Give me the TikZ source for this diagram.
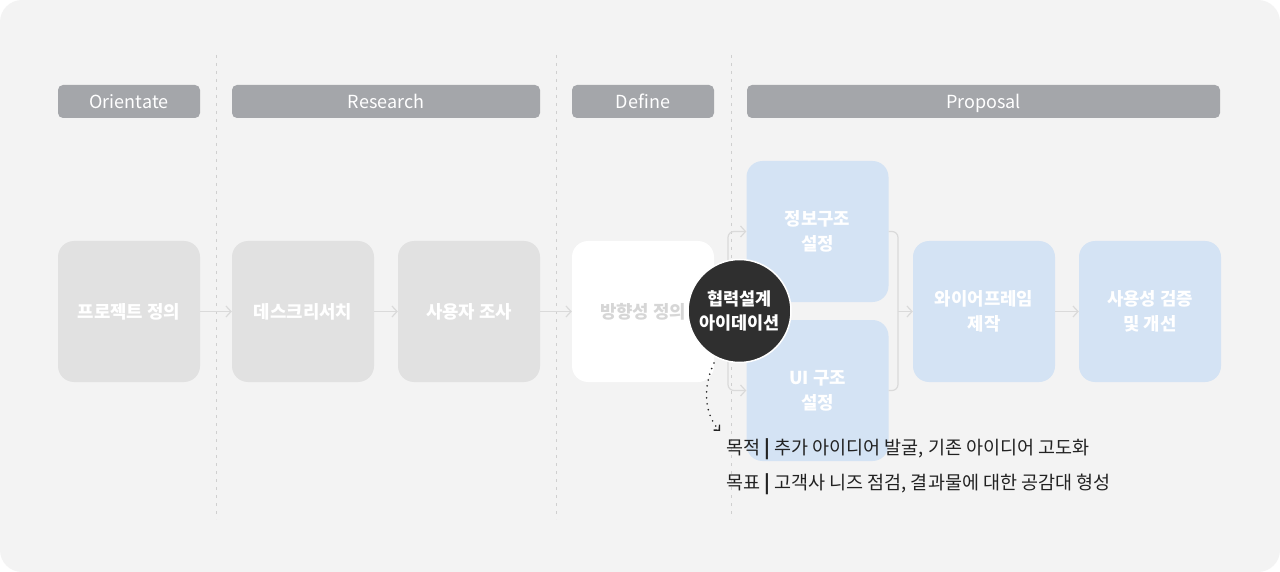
\documentclass[tikz,border=0pt]{standalone}
\usepackage{fontspec}
\setmainfont{Noto Sans CJK KR}
\usetikzlibrary{arrows.meta}
\definecolor{bgc}{HTML}{F3F3F3}
\definecolor{hdrc}{HTML}{A4A6AA}
\definecolor{grayb}{HTML}{E1E1E1}
\definecolor{blueb}{HTML}{D4E3F4}
\definecolor{arrc}{HTML}{DADADA}
\definecolor{sepc}{HTML}{CFCFCF}
\definecolor{circc}{HTML}{2F2F2F}
\definecolor{txtc}{HTML}{222222}
\definecolor{dimtxt}{HTML}{D6D6D6}
\begin{document}
\begin{tikzpicture}[x=1pt,y=-1pt,
  hdr/.style={fill=hdrc, rounded corners=5pt, text=white, minimum height=33pt, inner sep=0pt, text height=14pt, text depth=0pt, font=\fontsize{18}{20}\selectfont},
  box/.style={rounded corners=16pt, minimum width=142pt, minimum height=141pt, inner sep=0pt, align=center, text=white, font=\fontsize{17.8}{25}\selectfont\bfseries},
  graybox/.style={box, fill=grayb},
  whitebox/.style={box, fill=white, text=dimtxt},
  bluebox/.style={box, fill=blueb},
  wire/.style={draw=arrc, line width=1.2pt},
  conn/.style={wire, -{Straight Barb[length=5pt,width=11pt,line width=1.2pt]}},
  sep/.style={draw=sepc, line width=1pt, dash pattern=on 3pt off 5pt},
  note/.style={anchor=base west, inner sep=0pt, text=txtc, font=\fontsize{18.5}{20}\selectfont}
]
\useasboundingbox (0,0) rectangle (1280,572);
\fill[white] (0,0) rectangle (1280,572);
\fill[bgc, rounded corners=22pt] (0,0) rectangle (1280,572);

% separators
\coordinate (s1t) at (216,55); \coordinate (s1b) at (216,519);
\coordinate (s2t) at (556,55); \coordinate (s2b) at (556,519);
\coordinate (s3t) at (731,55); \coordinate (s3b) at (731,519);
\draw[sep] (s1t) -- (s1b);
\draw[sep] (s2t) -- (s2b);
\draw[sep] (s3t) -- (s3b);

% headers
\node[hdr, minimum width=142pt] (hO) at (129,101.5) {Orientate};
\node[hdr, minimum width=308pt] (hR) at (386,101.5) {Research};
\node[hdr, minimum width=142pt] (hD) at (643,101.5) {Define};
\node[hdr, minimum width=473pt] (hP) at (983.5,101.5) {Proposal};

% boxes
\node[graybox] (b1) at (129,311.5) {프로젝트 정의};
\node[graybox] (b2) at (303,311.5) {데스크리서치};
\node[graybox] (b3) at (469,311.5) {사용자 조사};
\node[whitebox] (b4) at (643,311.5) {방향성 정의};
\node[bluebox] (p1) at (817.5,231.5) {정보구조\\설정};
\node[bluebox] (p2) at (817.5,390.5) {UI 구조\\설정};
\node[bluebox] (w) at (984,311.5) {와이어프레임\\제작};
\node[bluebox] (u) at (1150,311.5) {사용성 검증\\및 개선};

% connectors
\draw[conn] (b1) -- (b2);
\draw[conn] (b2) -- (b3);
\draw[conn] (b3) -- (b4);
\coordinate (jl) at (728,311.5);
\coordinate (jr) at (898,311.5);
\draw[wire] (b4.east) -- (jl);
\draw[conn, rounded corners=6pt] (jl) |- (p1.west);
\draw[conn, rounded corners=6pt] (jl) |- (p2.west);
\draw[wire, rounded corners=6pt] (p1.east) -| (jr) |- (p2.east);
\draw[conn] (jr) -- (w.west);
\draw[conn] (w) -- (u);

% circle
\node[circle, fill=circc, draw=white, line width=1.5pt, minimum size=103pt, inner sep=0pt, text=white, align=center, font=\fontsize{17.5}{24}\selectfont\bfseries] (c) at (739.5,311) {협력설계\\아이데이션};

% dotted arrow
\coordinate (ds) at (714,363);
\coordinate (de) at (720,431);
\draw[draw=txtc, line width=1.8pt, line cap=round, dash pattern=on 0pt off 6pt, -{Straight Barb[length=4pt,width=8pt,line width=1.4pt]}] (ds) .. controls (702,388) and (705,415) .. (de);

% notes
\node[note] (t1) at (726,454.5) {목적 {\bfseries|} 추가 아이디어 발굴, 기존 아이디어 고도화};
\node[note] (t2) at (726,489.5) {목표 {\bfseries|} 고객사 니즈 점검, 결과물에 대한 공감대 형성};
\end{tikzpicture}
\end{document}
